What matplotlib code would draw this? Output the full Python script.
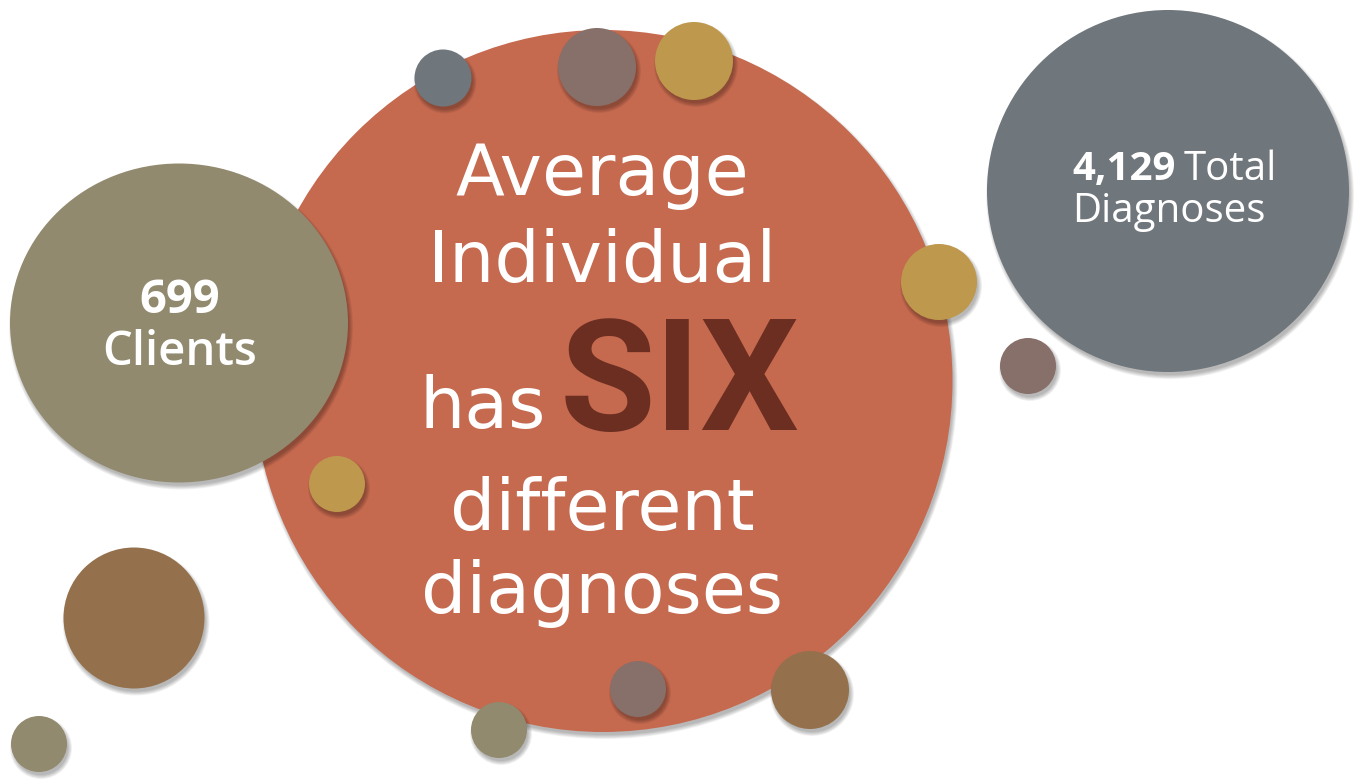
import matplotlib.pyplot as plt
from matplotlib.patches import Ellipse

# Headline numbers
clients = 699
total_diagnoses = 4129
average_word = 'SIX'

# Bubble layout (pixel space, y down): x, y, width, height, colour
bubble_x = [603, 179, 1168, 443, 597, 694, 939, 1028, 337, 134, 39, 638, 499, 810]
bubble_y = [381, 323, 191, 78, 67, 61, 282, 366, 484, 618, 744, 689, 730, 690]
bubble_w = [699, 338, 362, 57, 78, 78, 76, 56, 56, 141, 56, 56, 56, 78]
bubble_h = [702, 319, 362, 57, 78, 78, 76, 56, 56, 141, 56, 56, 56, 78]
bubble_c = ['#C5694F', '#928A6E', '#6F767C', '#6F767C', '#876F6A', '#BE984D',
            '#BE984D', '#876F6A', '#BE984D', '#94714C', '#928A6E', '#876F6A',
            '#928A6E', '#94714C']

W, H = 1355, 780
fig = plt.figure(figsize=(W / 100, H / 100), dpi=100)
ax = fig.add_axes([0, 0, 1, 1])
ax.set_xlim(0, W)
ax.set_ylim(H, 0)
ax.set_aspect('equal')
ax.axis('off')

# draw order: big red first, then olive & grey, then the small dots on top
order = [0, 1, 2] + list(range(3, len(bubble_x)))
for z, i in enumerate(order):
    x, y, w, h = bubble_x[i], bubble_y[i], bubble_w[i], bubble_h[i]
    # soft drop shadow
    for k in range(6):
        ax.add_patch(Ellipse((x + 2, y + 4), w + 6 - k * 1.6, h + 6 - k * 1.6,
                             color='black', alpha=0.05, lw=0, zorder=z * 2 + 1))
    ax.add_patch(Ellipse((x, y), w, h, color=bubble_c[i], lw=0, zorder=z * 2 + 2))

main_fam = ['DejaVu Sans']
fam = ['Open Sans', 'DejaVu Sans']
tz = 100
fs = 51.5

# main bubble text
ax.text(602, 195, 'Average', ha='center', va='baseline', fontsize=fs,
        color='white', family=main_fam, zorder=tz)
ax.text(602, 282, 'Individual', ha='center', va='baseline', fontsize=fs,
        color='white', family=main_fam, zorder=tz)
ax.text(546, 428, 'has', ha='right', va='baseline', fontsize=fs,
        color='white', family=main_fam, zorder=tz)
ax.text(560, 430, average_word, ha='left', va='baseline', fontsize=112,
        color='#6B2E21', family=['Roboto', 'DejaVu Sans'], fontweight='bold', zorder=tz)
ax.text(602, 530, 'different', ha='center', va='baseline', fontsize=fs,
        color='white', family=main_fam, zorder=tz)
ax.text(602, 613, 'diagnoses', ha='center', va='baseline', fontsize=fs,
        color='white', family=main_fam, zorder=tz)

# clients bubble
ax.text(180, 313, f'{clients}', ha='center', va='baseline', fontsize=34,
        color='white', family=fam, fontweight='bold', zorder=tz)
ax.text(180, 365, 'Clients', ha='center', va='baseline', fontsize=34,
        color='white', family=fam, fontweight='semibold', zorder=tz)

# diagnoses bubble
ax.text(1176, 180, f'{total_diagnoses:,}', ha='right', va='baseline', fontsize=29,
        color='white', family=fam, fontweight='bold', zorder=tz)
ax.text(1184, 180, 'Total', ha='left', va='baseline', fontsize=29,
        color='white', family=fam, zorder=tz)
ax.text(1169, 222, 'Diagnoses', ha='center', va='baseline', fontsize=29,
        color='white', family=fam, zorder=tz)

fig.savefig('out.png', dpi=100)
